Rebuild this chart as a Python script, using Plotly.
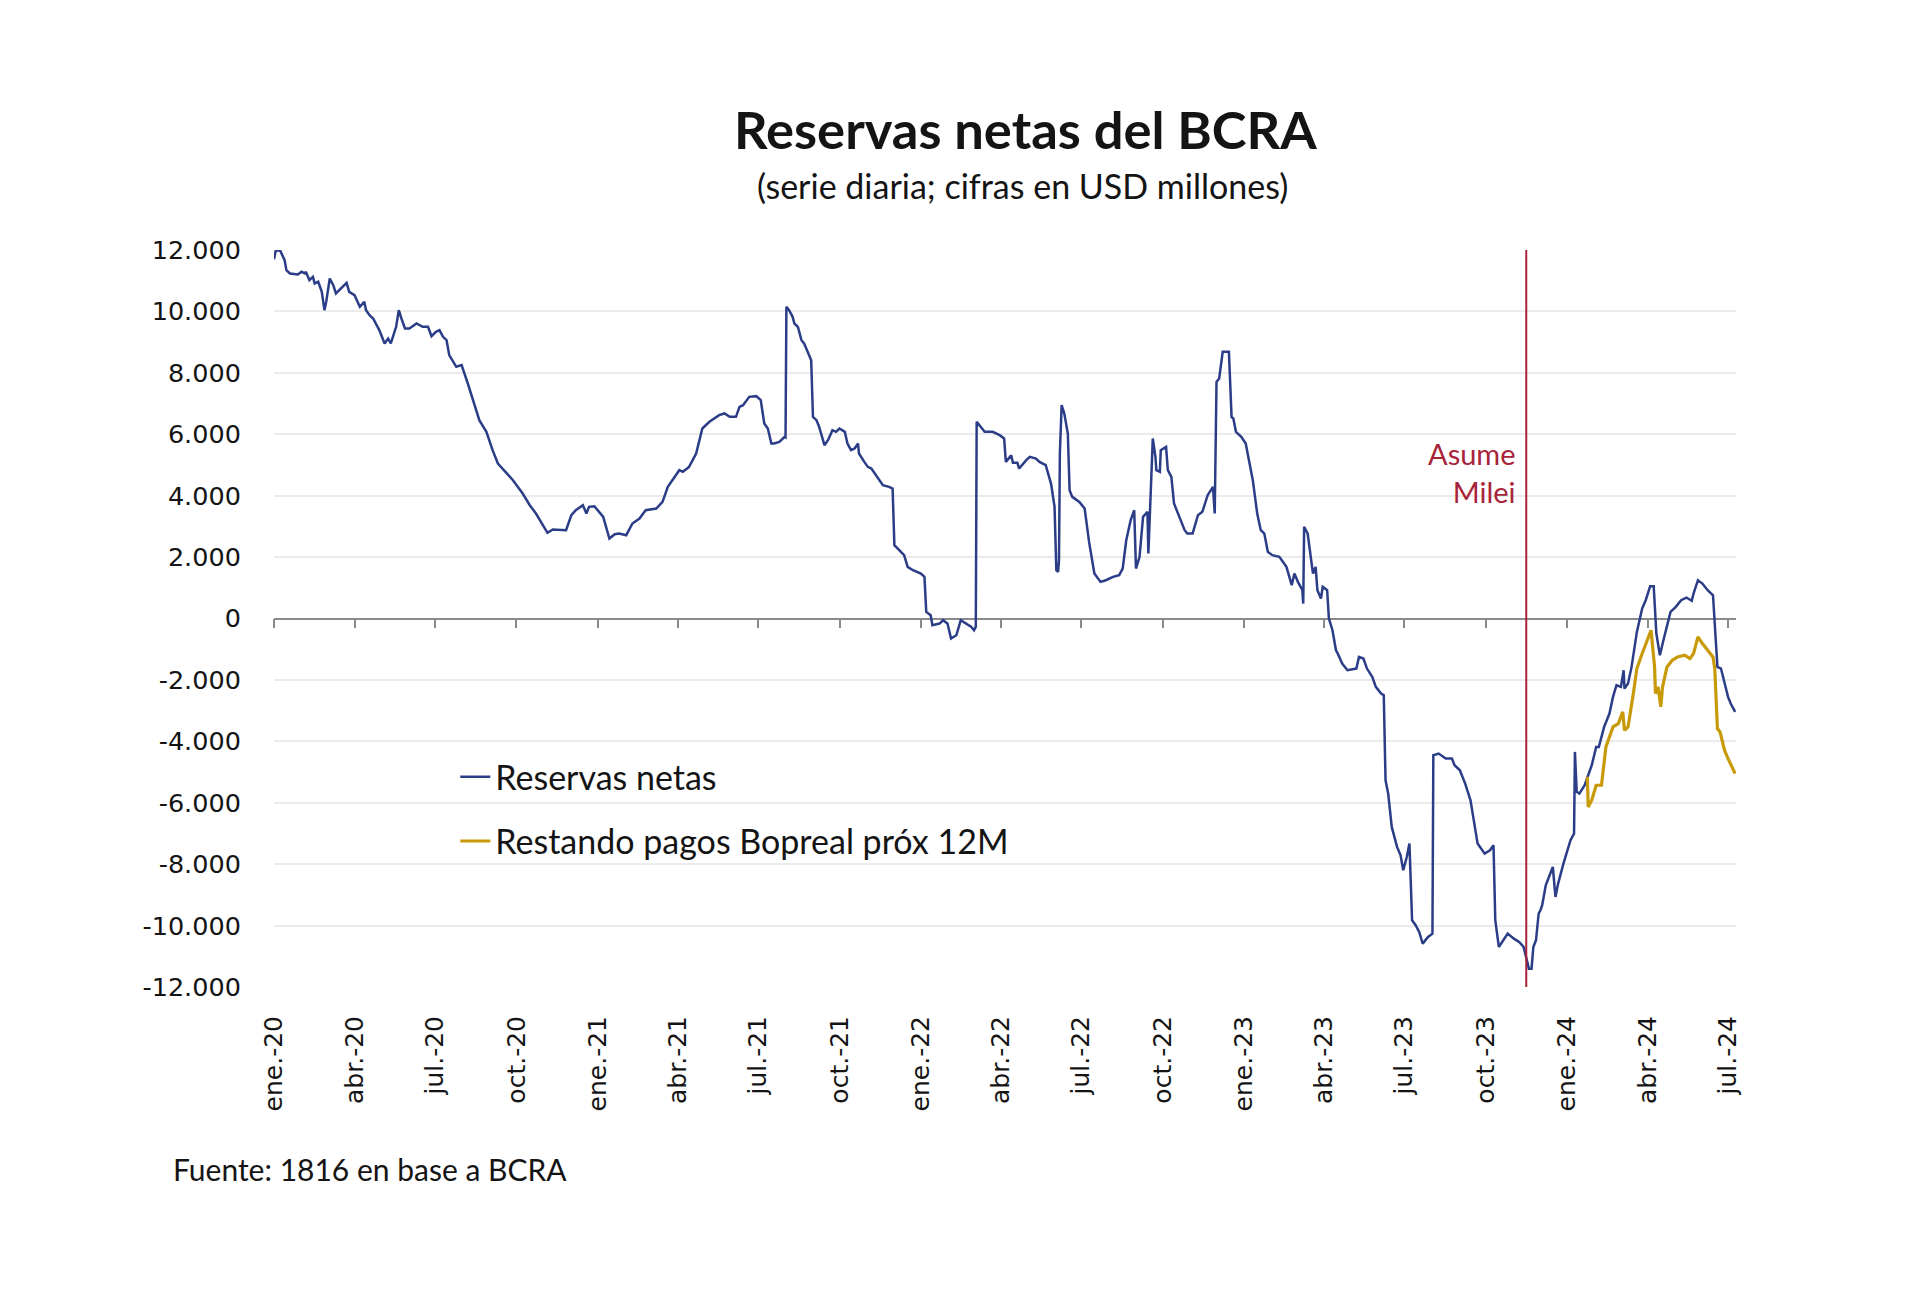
import plotly.graph_objects as go

# ---------------- data ----------------
reservas_fechas = [
    "2020-01-01", "2020-01-03", "2020-01-08", "2020-01-13", "2020-01-15", "2020-01-19", "2020-01-28",
    "2020-02-01", "2020-02-05", "2020-02-06", "2020-02-10", "2020-02-14", "2020-02-16", "2020-02-20",
    "2020-02-24", "2020-02-27", "2020-02-29", "2020-03-04", "2020-03-08", "2020-03-11", "2020-03-23",
    "2020-03-26", "2020-04-01", "2020-04-07", "2020-04-12", "2020-04-14", "2020-04-18", "2020-04-22",
    "2020-04-29", "2020-05-05", "2020-05-09", "2020-05-12", "2020-05-18", "2020-05-21", "2020-05-24",
    "2020-05-28", "2020-06-02", "2020-06-10", "2020-06-17", "2020-06-23", "2020-06-27", "2020-07-02",
    "2020-07-06", "2020-07-10", "2020-07-14", "2020-07-17", "2020-07-25", "2020-07-31", "2020-08-07",
    "2020-08-15", "2020-08-20", "2020-08-28", "2020-09-04", "2020-09-10", "2020-09-17", "2020-09-27",
    "2020-10-08", "2020-10-16", "2020-10-23", "2020-10-31", "2020-11-05", "2020-11-11", "2020-11-18",
    "2020-11-26", "2020-12-02", "2020-12-07", "2020-12-15", "2020-12-19", "2020-12-22", "2020-12-28",
    "2021-01-07", "2021-01-10", "2021-01-14", "2021-01-20", "2021-01-25", "2021-02-02", "2021-02-09",
    "2021-02-17", "2021-02-24", "2021-03-08", "2021-03-15", "2021-03-21", "2021-03-28", "2021-04-03",
    "2021-04-07", "2021-04-14", "2021-04-22", "2021-04-29", "2021-05-07", "2021-05-18", "2021-05-24",
    "2021-05-30", "2021-06-06", "2021-06-10", "2021-06-14", "2021-06-21", "2021-06-29", "2021-07-04",
    "2021-07-08", "2021-07-12", "2021-07-16", "2021-07-19", "2021-07-25", "2021-07-31", "2021-08-01",
    "2021-08-02", "2021-08-05", "2021-08-09", "2021-08-11", "2021-08-15", "2021-08-19", "2021-08-22",
    "2021-08-26", "2021-08-30", "2021-09-01", "2021-09-05", "2021-09-08", "2021-09-12", "2021-09-14",
    "2021-09-18", "2021-09-23", "2021-09-27", "2021-10-01", "2021-10-07", "2021-10-10", "2021-10-14",
    "2021-10-18", "2021-10-22", "2021-10-23", "2021-10-29", "2021-11-02", "2021-11-06", "2021-11-11",
    "2021-11-19", "2021-11-26", "2021-11-30", "2021-12-02", "2021-12-08", "2021-12-13", "2021-12-17",
    "2021-12-23", "2022-01-01", "2022-01-05", "2022-01-07", "2022-01-12", "2022-01-14", "2022-01-22",
    "2022-01-26", "2022-01-31", "2022-02-04", "2022-02-10", "2022-02-15", "2022-02-21", "2022-02-27",
    "2022-03-02", "2022-03-04", "2022-03-05", "2022-03-08", "2022-03-14", "2022-03-23", "2022-03-31",
    "2022-04-05", "2022-04-07", "2022-04-13", "2022-04-15", "2022-04-20", "2022-04-22", "2022-04-30",
    "2022-05-04", "2022-05-11", "2022-05-15", "2022-05-22", "2022-05-28", "2022-06-01", "2022-06-03",
    "2022-06-05", "2022-06-06", "2022-06-07", "2022-06-09", "2022-06-12", "2022-06-16", "2022-06-18",
    "2022-06-21", "2022-06-29", "2022-07-05", "2022-07-10", "2022-07-16", "2022-07-23", "2022-07-29",
    "2022-08-06", "2022-08-13", "2022-08-17", "2022-08-21", "2022-08-26", "2022-08-30", "2022-09-01",
    "2022-09-05", "2022-09-09", "2022-09-14", "2022-09-15", "2022-09-18", "2022-09-20", "2022-09-23",
    "2022-09-24", "2022-09-28", "2022-09-29", "2022-10-05", "2022-10-07", "2022-10-11", "2022-10-14",
    "2022-10-20", "2022-10-26", "2022-10-29", "2022-11-04", "2022-11-10", "2022-11-15", "2022-11-21",
    "2022-11-27", "2022-11-29", "2022-12-01", "2022-12-04", "2022-12-08", "2022-12-15", "2022-12-18",
    "2022-12-20", "2022-12-23", "2022-12-29", "2023-01-03", "2023-01-11", "2023-01-16", "2023-01-20",
    "2023-01-24", "2023-01-28", "2023-02-02", "2023-02-10", "2023-02-18", "2023-02-24", "2023-02-27",
    "2023-03-03", "2023-03-08", "2023-03-09", "2023-03-10", "2023-03-14", "2023-03-18", "2023-03-20",
    "2023-03-23", "2023-03-25", "2023-03-29", "2023-03-31", "2023-04-05", "2023-04-07", "2023-04-11",
    "2023-04-15", "2023-04-17", "2023-04-22", "2023-04-28", "2023-05-08", "2023-05-11", "2023-05-16",
    "2023-05-20", "2023-05-26", "2023-05-30", "2023-06-05", "2023-06-08", "2023-06-10", "2023-06-13",
    "2023-06-17", "2023-06-23", "2023-06-27", "2023-06-30", "2023-07-04", "2023-07-07", "2023-07-10",
    "2023-07-14", "2023-07-18", "2023-07-22", "2023-07-28", "2023-08-02", "2023-08-03", "2023-08-09",
    "2023-08-17", "2023-08-24", "2023-08-27", "2023-09-02", "2023-09-08", "2023-09-14", "2023-09-18",
    "2023-09-22", "2023-09-30", "2023-10-06", "2023-10-10", "2023-10-12", "2023-10-16", "2023-10-20",
    "2023-10-26", "2023-11-02", "2023-11-08", "2023-11-13", "2023-11-16", "2023-11-19", "2023-11-22",
    "2023-11-24", "2023-11-27", "2023-11-30", "2023-12-02", "2023-12-04", "2023-12-08", "2023-12-16",
    "2023-12-19", "2023-12-22", "2023-12-28", "2024-01-05", "2024-01-09", "2024-01-10", "2024-01-12",
    "2024-01-15", "2024-01-21", "2024-01-26", "2024-01-29", "2024-02-03", "2024-02-06", "2024-02-12",
    "2024-02-18", "2024-02-22", "2024-02-26", "2024-03-02", "2024-03-05", "2024-03-06", "2024-03-10",
    "2024-03-14", "2024-03-20", "2024-03-26", "2024-03-30", "2024-04-04", "2024-04-08", "2024-04-11",
    "2024-04-15", "2024-04-19", "2024-04-27", "2024-05-03", "2024-05-09", "2024-05-15", "2024-05-21",
    "2024-05-23", "2024-05-28", "2024-06-02", "2024-06-08", "2024-06-14", "2024-06-16", "2024-06-19",
    "2024-06-23", "2024-06-27", "2024-07-01", "2024-07-04", "2024-07-09",
]
reservas_valores = [
    11700, 11980, 11980, 11670, 11345, 11236, 11203,
    11290, 11236, 11290, 11019, 11127, 10910, 10964,
    10638, 10041, 10313, 11073, 10856, 10584, 10932,
    10638, 10530, 10150, 10313, 10041, 9878, 9770,
    9390, 8956, 9118, 8956, 9498, 10041, 9770,
    9444, 9444, 9607, 9498, 9498, 9194, 9336,
    9390, 9173, 9064, 8576, 8196, 8250, 7653,
    6893, 6459, 6079, 5481, 5047, 4830, 4504,
    4070, 3690, 3418, 3038, 2789, 2897, 2876,
    2876, 3364, 3527, 3690, 3418, 3636, 3657,
    3310, 2984, 2604, 2745, 2767, 2713, 3093,
    3256, 3527, 3581, 3798, 4287, 4558, 4830,
    4776, 4938, 5373, 6187, 6404, 6621, 6676,
    6567, 6567, 6893, 6947, 7218, 7240, 7110,
    6350, 6187, 5698, 5698, 5753, 5915, 5900,
    10149, 10041, 9824, 9607, 9498, 9064, 8955,
    8684, 8412, 6567, 6458, 6241, 5807, 5644,
    5807, 6132, 6078, 6187, 6078, 5698, 5481,
    5535, 5698, 5372, 5101, 4938, 4884, 4667,
    4341, 4287, 4232, 2387, 2224, 2061, 1681,
    1572, 1464, 1355, 215, 107, -219, -165,
    -56, -165, -653, -545, -56, -165, -273,
    -382, -273, 6404, 6295, 6078, 6078, 5970,
    5861, 5101, 5318, 5068, 5068, 4884, 5155,
    5264, 5209, 5101, 4992, 4395, 3635, 1572,
    1518, 1898, 5372, 6947, 6675, 6024, 4178,
    3961, 3798, 3581, 2495, 1464, 1192, 1247,
    1355, 1410, 1627, 2549, 3201, 3527, 1627,
    2006, 3310, 3473, 2116, 4287, 5861, 5264,
    4830, 4776, 5481, 5590, 4830, 4613, 3744,
    3310, 2876, 2767, 2767, 3364, 3473, 4016,
    4287, 3418, 7707, 7816, 8684, 8684, 6567,
    6513, 6078, 5915, 5698, 4504, 3418, 2876,
    2767, 2170, 2061, 2007, 1681, 1084, 1464,
    1193, 921, 487, 2984, 2767, 1899, 1464,
    1681, 921, 650, 1030, 921, 0, -381,
    -1033, -1142, -1467, -1684, -1630, -1250, -1304,
    -1630, -1902, -2227, -2444, -2499, -5267, -5702,
    -6787, -7439, -7710, -8199, -7765, -7330, -9827,
    -9990, -10207, -10587, -10370, -10262, -4453, -4399,
    -4562, -4562, -4779, -4942, -5376, -5919, -6570,
    -7330, -7656, -7547, -7384, -9827, -10696, -10533,
    -10262, -10425, -10533, -10696, -11022, -11402, -11402,
    -10696, -10479, -9610, -9502, -9339, -8687, -8090,
    -9067, -8633, -7982, -7220, -7004, -4344, -5647,
    -5702, -5430, -5050, -4779, -4182, -4182, -3530,
    -3096, -2553, -2173, -2227, -1684, -2282, -2119,
    -1576, -436, 326, 595, 1051, 1051, -490,
    -1196, -707, 215, 378, 595, 682, 574,
    813, 1247, 1138, 921, 758, -56, -1576,
    -1630, -2119, -2553, -2770, -3041,
]

bopreal_fechas = [
    "2024-01-24", "2024-01-25", "2024-01-29", "2024-02-03", "2024-02-09", "2024-02-14", "2024-02-18",
    "2024-02-22", "2024-02-28", "2024-03-04", "2024-03-06", "2024-03-10", "2024-03-16", "2024-03-20",
    "2024-03-26", "2024-04-01", "2024-04-05", "2024-04-09", "2024-04-10", "2024-04-13", "2024-04-16",
    "2024-04-18", "2024-04-23", "2024-04-29", "2024-05-05", "2024-05-13", "2024-05-19", "2024-05-23",
    "2024-05-28", "2024-06-02", "2024-06-08", "2024-06-14", "2024-06-16", "2024-06-19", "2024-06-22",
    "2024-06-27", "2024-07-01", "2024-07-05", "2024-07-09",
]
bopreal_valores = [
    -5159, -6136, -5919, -5430, -5430, -4182, -3856,
    -3530, -3422, -3041, -3639, -3530, -2444, -1630,
    -1142, -653, -382, -1576, -2444, -2227, -2879,
    -2227, -1576, -1359, -1250, -1196, -1304, -1142,
    -599, -816, -1033, -1250, -1630, -3585, -3693,
    -4290, -4562, -4834, -5050,
]

milei_fecha = "2023-11-16"

x_tick_fechas = [
    "2020-01-01", "2020-04-01", "2020-07-01", "2020-10-01",
    "2021-01-01", "2021-04-01", "2021-07-01", "2021-10-01",
    "2022-01-01", "2022-04-01", "2022-07-01", "2022-10-01",
    "2023-01-01", "2023-04-01", "2023-07-01", "2023-10-01",
    "2024-01-01", "2024-04-01", "2024-07-01",
]
x_tick_textos = [
    "ene.-20", "abr.-20", "jul.-20", "oct.-20",
    "ene.-21", "abr.-21", "jul.-21", "oct.-21",
    "ene.-22", "abr.-22", "jul.-22", "oct.-22",
    "ene.-23", "abr.-23", "jul.-23", "oct.-23",
    "ene.-24", "abr.-24", "jul.-24",
]
y_tick_valores = [12000, 10000, 8000, 6000, 4000, 2000, 0,
                  -2000, -4000, -6000, -8000, -10000, -12000]
y_tick_textos = ["12.000", "10.000", "8.000", "6.000", "4.000", "2.000", "0",
                 "-2.000", "-4.000", "-6.000", "-8.000", "-10.000", "-12.000"]

# ---------------- styles ----------------
AZUL = "#2C3D88"
ORO = "#C99A08"
ROJO = "#A8233A"
TXT = "#141414"
F_TXT = "Lato, 'Open Sans', sans-serif"
F_TICK = "'DejaVu Sans', Verdana, sans-serif"

fig = go.Figure()
fig.add_trace(go.Scatter(
    x=reservas_fechas, y=reservas_valores, mode="lines",
    name="Reservas netas", line=dict(color=AZUL, width=2.5),
    legendgroup="a",
))
fig.add_trace(go.Scatter(
    x=bopreal_fechas, y=bopreal_valores, mode="lines",
    name="Restando pagos Bopreal próx 12M", line=dict(color=ORO, width=3.2),
    legendgroup="b", xaxis="x2",
))

x_range = ["2020-01-01", "2024-07-10"]

fig.update_layout(
    width=1920, height=1309,
    paper_bgcolor="white", plot_bgcolor="white",
    margin=dict(l=274, r=184, t=250, b=322),
    showlegend=True,
    legend=dict(
        x=0.124, y=0.324, xanchor="left", yanchor="top",
        font=dict(family=F_TXT, size=34, color=TXT),
        bgcolor="rgba(0,0,0,0)", traceorder="grouped", tracegroupgap=17,
    ),
    xaxis=dict(
        type="date", range=x_range,
        tickmode="array", tickvals=x_tick_fechas, ticktext=x_tick_textos,
        tickangle=-90, ticks="outside", ticklen=18, tickcolor="rgba(0,0,0,0)",
        tickfont=dict(family=F_TICK, size=25, color=TXT),
        showgrid=False, showline=False, zeroline=False,
    ),
    xaxis2=dict(
        type="date", matches="x", overlaying="x", anchor="free", position=0.5,
        side="bottom", layer="below traces",
        tickmode="array", tickvals=x_tick_fechas, showticklabels=False,
        ticks="outside", ticklen=9, tickwidth=1.5, tickcolor="#8A8A8A",
        showline=True, linecolor="#8A8A8A", linewidth=1.5,
        showgrid=False, zeroline=False,
    ),
    yaxis=dict(
        range=[-12000, 12000],
        tickmode="array", tickvals=y_tick_valores, ticktext=y_tick_textos,
        ticks="outside", ticklen=27, tickcolor="rgba(0,0,0,0)",
        tickfont=dict(family=F_TICK, size=25.5, color=TXT),
        showgrid=True, gridcolor="#EBEBEB", gridwidth=1.5,
        zeroline=False, showline=False,
    ),
    shapes=[dict(
        type="line", xref="x", yref="y",
        x0=milei_fecha, x1=milei_fecha, y0=-12000, y1=12000,
        line=dict(color=ROJO, width=2), layer="above",
    )],
    annotations=[
        dict(text="<b>Reservas netas del BCRA</b>", xref="paper", yref="paper",
             x=0.5137, y=1.1655, xanchor="center", yanchor="middle", showarrow=False,
             font=dict(family=F_TXT, size=52.5, color=TXT)),
        dict(text="(serie diaria; cifras en USD millones)", xref="paper", yref="paper",
             x=0.5123, y=1.0869, xanchor="center", yanchor="middle", showarrow=False,
             font=dict(family=F_TXT, size=34, color=TXT)),
        dict(text="Fuente: 1816 en base a BCRA", xref="paper", yref="paper",
             x=-0.0705, y=-0.247, xanchor="left", yanchor="middle", showarrow=False,
             font=dict(family=F_TXT, size=30, color=TXT)),
        dict(text="Asume<br>Milei", xref="x", yref="y",
             x=milei_fecha, y=4765, xanchor="right", yanchor="middle", xshift=-8,
             align="right", showarrow=False,
             font=dict(family=F_TXT, size=29, color=ROJO)),
    ],
)

fig.write_html("out.html", post_script="document.body.style.margin='0';",
               config={"displayModeBar": False})
